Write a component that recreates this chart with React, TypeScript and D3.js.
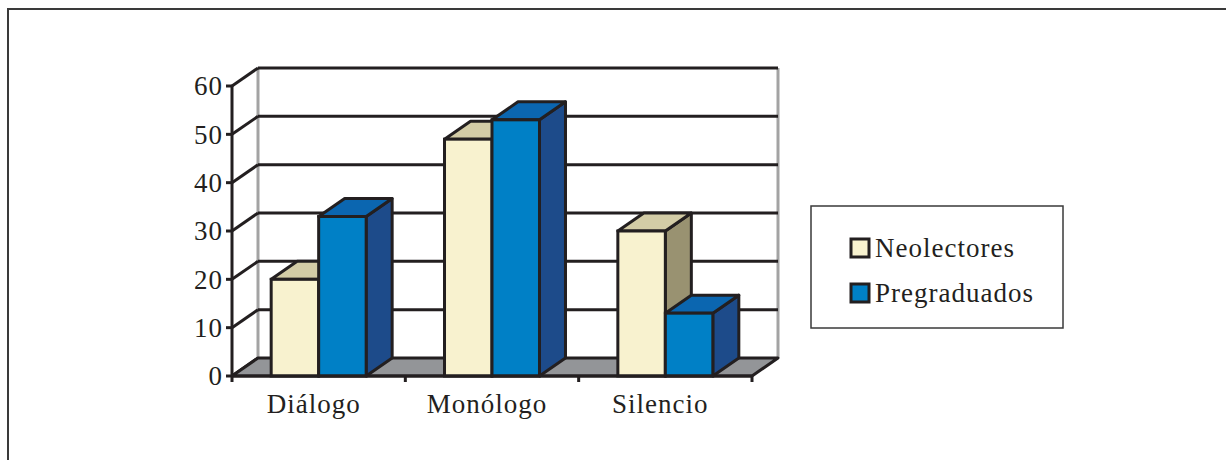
import React from "react";
import * as d3 from "d3";

const categories = ["Diálogo", "Monólogo", "Silencio"];
const seriesNames = ["Neolectores", "Pregraduados"];
const neolectores = [20, 49, 30];
const pregraduados = [33, 53, 13];
const yTicks = [0, 10, 20, 30, 40, 50, 60];

const W = 1226;
const H = 460;
const INK = "#231f20";
const FONT = "Liberation Serif";
const FS = 27;
const LS = 1;

// face colours per series: front, top, side
const palette = [
  { front: "#f8f2cf", top: "#d3cca6", side: "#999271" },
  { front: "#0080c6", top: "#0b66b0", side: "#1d4b8a" },
];

// depth offset of the 3D box
const DX = 26;
const DY = -18;

export default function App() {
  const x0 = 232;
  const x1 = 752;
  const yBase = 376;
  const yTop = 86;

  const x = d3.scaleBand<string>().domain(categories).range([x0, x1]);
  const xs = d3
    .scaleBand<string>()
    .domain(seriesNames)
    .range([0, x.bandwidth()])
    .paddingOuter(0.825)
    .paddingInner(0);
  const y = d3.scaleLinear().domain([0, 60]).range([yBase, yTop]);

  const values = [neolectores, pregraduados];

  const bars: React.ReactNode[] = [];
  categories.forEach((c, ci) => {
    seriesNames.forEach((s, si) => {
      const v = values[si][ci];
      const bx = (x(c) as number) + (xs(s) as number);
      const bw = xs.bandwidth();
      const by = y(v);
      const col = palette[si];
      const top = [
        [bx, by],
        [bx + DX, by + DY],
        [bx + bw + DX, by + DY],
        [bx + bw, by],
      ];
      const side = [
        [bx + bw, by],
        [bx + bw + DX, by + DY],
        [bx + bw + DX, yBase + DY],
        [bx + bw, yBase],
      ];
      const pts = (p: number[][]) => p.map((q) => q.join(",")).join(" ");
      bars.push(
        <g key={c + s}>
          <polygon points={pts(side)} fill={col.side} stroke={INK} strokeWidth={3} strokeLinejoin="round" />
          <polygon points={pts(top)} fill={col.top} stroke={INK} strokeWidth={3} strokeLinejoin="round" />
          <rect x={bx} y={by} width={bw} height={yBase - by} fill={col.front} stroke={INK} strokeWidth={3} />
        </g>
      );
    });
  });

  const floor = [
    [x0, yBase],
    [x1, yBase],
    [x1 + DX, yBase + DY],
    [x0 + DX, yBase + DY],
  ]
    .map((q) => q.join(","))
    .join(" ");

  return (
    <svg
      width={W}
      height={H}
      style={{ position: "absolute", left: 0, top: 0, background: "#fff" }}
    >
      {/* outer frame */}
      <path d={`M8,${H} L8,9 L${W},9`} fill="none" stroke="#3a3a3a" strokeWidth={2} />

      {/* back wall edges */}
      <line x1={x0 + DX} x2={x0 + DX} y1={y(60) + DY} y2={yBase + DY} stroke="#a3a3a3" strokeWidth={3} />
      <line x1={x1 + DX} x2={x1 + DX} y1={y(60) + DY} y2={yBase + DY} stroke="#a3a3a3" strokeWidth={3} />

      {/* gridlines on the back wall and side wall */}
      {yTicks.map((t) => (
        <g key={t}>
          {t > 0 && (
            <line x1={x0 + DX} x2={x1 + DX} y1={y(t) + DY} y2={y(t) + DY} stroke={INK} strokeWidth={3} />
          )}
          <line x1={x0} x2={x0 + DX} y1={y(t)} y2={y(t) + DY} stroke={INK} strokeWidth={3} />
          <line x1={x0 - 6} x2={x0} y1={y(t)} y2={y(t)} stroke={INK} strokeWidth={3} />
          <text
            x={x0 - 9}
            y={y(t)}
            dy="0.35em"
            textAnchor="end"
            fontFamily={FONT}
            fontSize={FS}
            letterSpacing={LS}
            fill={INK}
          >
            {t}
          </text>
        </g>
      ))}

      {/* floor */}
      <polygon points={floor} fill="#939598" stroke={INK} strokeWidth={3} strokeLinejoin="round" />

      {/* front value axis */}
      <line x1={x0} x2={x0} y1={y(60)} y2={yBase} stroke={INK} strokeWidth={3} />

      {bars}

      {/* category axis */}
      <line x1={x0} x2={x1} y1={yBase} y2={yBase} stroke={INK} strokeWidth={3} />
      {[...categories.map((c) => x(c) as number), x1].map((px, i) => (
        <line key={i} x1={px} x2={px} y1={yBase} y2={yBase + 6} stroke={INK} strokeWidth={3} />
      ))}
      {categories.map((c) => (
        <text
          key={c}
          x={(x(c) as number) + x.bandwidth() / 2 - 5}
          y={413}
          textAnchor="middle"
          fontFamily={FONT}
          fontSize={FS}
          letterSpacing={LS}
          fill={INK}
        >
          {c}
        </text>
      ))}

      {/* legend */}
      <rect x={811} y={206} width={252} height={122} fill="#fff" stroke="#3a3a3a" strokeWidth={1.5} />
      {seriesNames.map((s, i) => (
        <g key={s} transform={`translate(0, ${i * 45})`}>
          <rect x={851} y={239} width={18} height={18} fill={palette[i].front} stroke={INK} strokeWidth={3} />
          <text x={875} y={257} fontFamily={FONT} fontSize={FS} letterSpacing={LS} fill={INK}>
            {s}
          </text>
        </g>
      ))}
    </svg>
  );
}
